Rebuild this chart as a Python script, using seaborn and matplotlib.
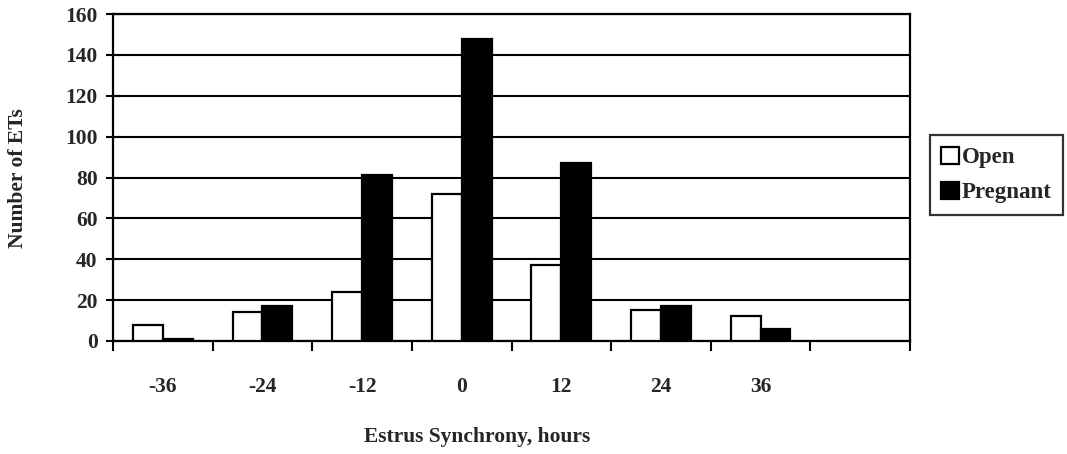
import numpy as np
import pandas as pd
import matplotlib
matplotlib.use('Agg')
import matplotlib.pyplot as plt
import seaborn as sns

# data
hours = ['-36', '-24', '-12', '0', '12', '24', '36']
open_cnt = [8, 14, 24, 72, 37, 15, 12]
pregnant_cnt = [1, 17, 81, 148, 87, 17, 6]

df = pd.DataFrame({'hours': hours * 2,
                   'count': open_cnt + pregnant_cnt,
                   'status': ['Open'] * len(hours) + ['Pregnant'] * len(hours)})

sns.set_style('white')
plt.rcParams['font.family'] = ['Liberation Serif', 'DejaVu Serif']
plt.rcParams['font.weight'] = 'bold'
fs = 15.5

fig = plt.figure(figsize=(10.67, 4.54), dpi=100)
ax = fig.add_axes([113/1067, 1 - 341/454, (910-113)/1067, (341-14)/454])

sns.barplot(data=df, x='hours', y='count', hue='status', order=hours,
            palette={'Open': 'white', 'Pregnant': 'black'},
            edgecolor='black', linewidth=1.6, width=0.6, ax=ax, zorder=3)

ax.set_xlim(-0.5, 7.5)
ax.set_ylim(0, 160)
ax.set_yticks(np.arange(0, 161, 20))
ax.set_axisbelow(True)
ax.yaxis.grid(True, color='black', linewidth=1.5)
ax.xaxis.grid(False)

for s in ax.spines.values():
    s.set_color('black')
    s.set_linewidth(1.6)

ax.set_xticks(range(len(hours)))
ax.set_xticklabels(hours, fontsize=fs, fontweight='bold')
ax.set_xticks(np.arange(-0.5, 8.0, 1), minor=True)
ax.tick_params(axis='x', which='major', length=0, pad=26)
ax.tick_params(axis='x', which='minor', direction='out', length=7, width=1.5,
               color='black', bottom=True)
ax.tick_params(axis='y', direction='inout', length=10, width=1.5, color='black',
               left=True, labelsize=fs, pad=6)
for t in ax.get_yticklabels():
    t.set_fontweight('bold')

ax.set_xlabel('Estrus Synchrony, hours', fontsize=fs, fontweight='bold')
ax.xaxis.set_label_coords((477 - 113) / 797, -(437 - 341) / 327)
ax.xaxis.label.set_va('center')
ax.set_ylabel('Number of ETs', fontsize=fs, fontweight='bold')
ax.yaxis.set_label_coords(-(113 - 18) / 797, (341 - 178) / 327)
ax.yaxis.label.set_va('center')

ax.legend_.remove()
handles, labels = ax.get_legend_handles_labels()
leg = fig.legend(handles, labels, loc='center left',
                 bbox_to_anchor=(930/1067, 1 - 175/454), frameon=True,
                 fancybox=False, edgecolor='black', handlelength=0.75,
                 handleheight=0.75, handletextpad=0.15, borderpad=0.5,
                 labelspacing=0.6, borderaxespad=0,
                 prop={'size': 16.5, 'weight': 'bold'})
leg.get_frame().set_linewidth(1.6)

fig.savefig('out.png', dpi=100)
